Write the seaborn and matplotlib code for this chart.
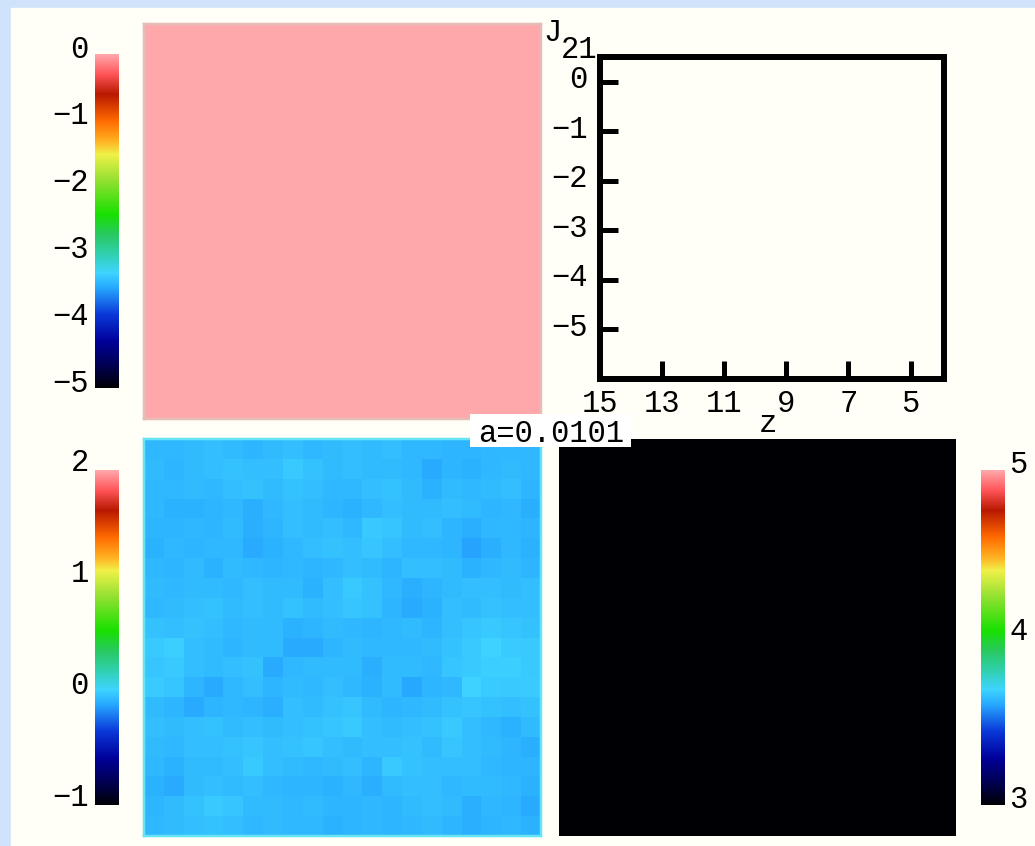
import matplotlib

matplotlib.use("Agg")
import matplotlib.pyplot as plt
import numpy as np
import seaborn as sns
from matplotlib.colors import LinearSegmentedColormap
from matplotlib.patches import Rectangle
from matplotlib.transforms import ScaledTranslation

W, H = 1035, 846

# colour table, bottom to top
cmap_stops = [0.0, 0.06, 0.14, 0.22, 0.30, 0.345, 0.40, 0.46, 0.52, 0.62, 0.70, 0.74, 0.80, 0.88, 0.94, 1.0]
cmap_colors = [
    "#000004", "#00004a", "#00009a", "#0a38d8", "#26a8ff", "#3ed4ff", "#30d0b0", "#28c860",
    "#18e000", "#90e030", "#f0f048", "#ffb020", "#ff6a00", "#b81800", "#ff5558", "#ffa8ac",
]

pink_values = [[0.0, 0.0], [0.0, 0.0]]
black_values = [[3.0, 3.0], [3.0, 3.0]]

# lower left map, in hundredths
blue_values = [
    [-5, -5, -4, -3, -4, -6, -4, -3, -5, -4, -3, -4, -3, -5, -5, -6, -6, -5, -5, -5],
    [-4, -6, -4, -3, -2, -3, -3, 0, -2, -4, -3, -4, -4, -5, -9, -6, -7, -5, -4, -5],
    [-5, -5, -4, -5, -3, -2, -4, -2, -3, -5, -5, -3, -2, -4, -7, -4, -5, -4, -3, -6],
    [-5, -7, -7, -6, -5, -8, -5, -3, -4, -6, -7, -5, -3, -4, -4, -3, -4, -6, -5, -8],
    [-6, -6, -5, -6, -4, -8, -6, -3, -4, -3, -5, 0, -1, -4, -3, -6, -8, -5, -5, -6],
    [-7, -5, -6, -5, -5, -9, -7, -5, -3, -2, -3, -1, -3, -5, -5, -6, -11, -8, -5, -7],
    [-5, -6, -4, -7, -4, -5, -6, -5, -6, -5, -3, -4, -6, -3, -3, -4, -7, -5, -4, -6],
    [-4, -5, -4, -4, -5, -3, -4, -4, -7, -3, 0, -2, -5, -8, -6, -4, -3, -3, -4, -3],
    [-5, -4, -3, -2, -4, -3, -4, -2, -4, -3, -1, -2, -6, -9, -7, -3, -4, -2, -3, -3],
    [-2, -3, -2, -3, -5, -4, -4, -7, -6, -4, -5, -6, -5, -4, -6, -3, -1, 0, -1, -2],
    [0, 2, -3, -4, -6, -4, -4, -9, -9, -6, -4, -5, -5, -5, -4, -2, 0, 3, 1, 0],
    [-1, 0, -3, -4, -3, -2, -9, -5, -4, -4, -4, -8, -4, -4, -5, -1, 0, 2, 2, 0],
    [1, -1, -6, -9, -5, -3, -6, -4, -5, -3, -5, -7, -4, -10, -6, -5, 3, 1, 0, 1],
    [-4, -6, -9, -6, -5, -6, -8, -3, -4, -2, -1, -4, -6, -5, -4, -2, -1, -2, -3, -2],
    [-3, -4, -3, -2, -4, -3, -4, -3, -2, -1, 0, -3, -4, -3, -2, 0, -3, -5, -7, -4],
    [-4, -5, -3, -3, -2, -1, -3, -2, -1, -3, -4, -3, -3, -2, -4, -1, -3, -4, -6, -8],
    [-5, -7, -4, -4, -3, 0, -3, -4, -5, -4, -3, -6, 0, -2, -3, -3, -3, -5, -6, -6],
    [-7, -9, -4, -3, -4, -3, -5, -6, -6, -7, -5, -8, -4, -3, -3, -5, -4, -4, -5, -7],
    [-6, -4, -2, 0, -1, -4, -4, -5, -4, -6, -6, -5, -6, -4, -3, -4, -8, -5, -6, -9],
    [-5, -4, -3, -2, -3, -5, -4, -5, -5, -7, -6, -5, -6, -5, -4, -6, -8, -6, -5, -7],
]

pink_ticks = [0, -1, -2, -3, -4, -5]
blue_ticks = [2, 1, 0, -1]
black_ticks = [5, 4, 3]
z_ticks = [15, 13, 11, 9, 7, 5]
j_ticks = [0, -1, -2, -3, -4, -5]

MONO = "Liberation Mono"
FS = 22
INK = "#000000"
PAPER = "#fffff8"
px = 72 / 100


def px_axes(fig, x0, y0, x1, y1):
    return fig.add_axes([x0 / W, 1 - y1 / H, (x1 - x0) / W, (y1 - y0) / H])


def put_text(fig, x, y, s, **kw):
    return fig.text(x / W, 1 - y / H, s, family=MONO, fontsize=FS, color=INK, ha="center", va="center", **kw)


def shift_labels(fig, labels, dy):
    offset = ScaledTranslation(0, dy / 100, fig.dpi_scale_trans)
    for lab in labels:
        lab.set_transform(lab.get_transform() + offset)


def draw_map(fig, values, box, cbar_box, vmin, vmax, ticks, side, edge, cmap, dy, pad):
    ax = px_axes(fig, *box)
    cax = px_axes(fig, *cbar_box)
    sns.heatmap(values, ax=ax, cbar_ax=cax, cmap=cmap, vmin=vmin, vmax=vmax,
                xticklabels=False, yticklabels=False)
    for s in ax.spines.values():
        s.set_visible(edge is not None)
        if edge is not None:
            s.set_color(edge)
            s.set_linewidth(2.5 * px)
    ax.collections[0].colorbar.outline.set_visible(False)
    cax.yaxis.set_ticks_position(side)
    cax.set_yticks(ticks)
    cax.set_yticklabels([str(t).replace("-", "\u2212") for t in ticks], family=MONO, fontsize=FS, color=INK)
    cax.tick_params(axis="y", length=0, pad=pad)
    shift_labels(fig, cax.get_yticklabels(), dy)
    return ax


sns.set_theme(style="white")
plt.rcParams["font.family"] = [MONO, "DejaVu Sans"]

cmap = LinearSegmentedColormap.from_list("table", list(zip(cmap_stops, cmap_colors)), N=1024)

fig = plt.figure(figsize=(W / 100, H / 100), dpi=100, facecolor="#cfe3fa")
fig.add_artist(Rectangle((11 / W, 0), 1 - 11 / W, 1 - 8 / H, transform=fig.transFigure, color=PAPER, zorder=-1))

draw_map(fig, pink_values, (144, 24, 541, 419), (95, 54, 119, 388), -5, 0, pink_ticks, "left", "#e4bcb8", cmap, 8, 4.5)
draw_map(fig, np.array(blue_values) / 100, (144, 439, 541, 836), (95, 470, 119, 805), -1, 2, blue_ticks, "left", "#66e4f4", cmap, 11, 4.5)
draw_map(fig, black_values, (559, 439, 956, 836), (981, 470, 1005, 805), 3, 5, black_ticks, "right", None, cmap, 9, 3)

# empty J21 against z frame
ax = px_axes(fig, 600, 57.5, 943.5, 379)
ax.set_facecolor("none")
ax.set_xlim(15, 3.94)
ax.set_ylim(-6.01, 0.49)
ax.set_xticks(z_ticks)
ax.set_yticks(j_ticks)
ax.set_xticklabels([str(t) for t in z_ticks], family=MONO, fontsize=FS, color=INK)
ax.set_yticklabels([str(t).replace("-", "\u2212") for t in j_ticks], family=MONO, fontsize=FS, color=INK)
ax.tick_params(axis="x", direction="in", length=18 * px, width=5 * px, color=INK, pad=10 * px, bottom=True)
ax.tick_params(axis="y", direction="in", length=18 * px, width=5 * px, color=INK, pad=12.5 * px, left=True)
for s in ax.spines.values():
    s.set_visible(True)
    s.set_color(INK)
    s.set_linewidth(6 * px)
shift_labels(fig, ax.get_yticklabels(), 5)

put_text(fig, 552, 33, "J")
put_text(fig, 579, 50, "21")
put_text(fig, 768, 424, "z")
fig.add_artist(Rectangle((470 / W, 1 - 447 / H), 161 / W, 33 / H, transform=fig.transFigure,
                         facecolor="white", edgecolor="none", zorder=5))
put_text(fig, 551, 434, "a=0.0101", zorder=6)

fig.savefig("out.png", dpi=100, facecolor=fig.get_facecolor())
plt.close(fig)
